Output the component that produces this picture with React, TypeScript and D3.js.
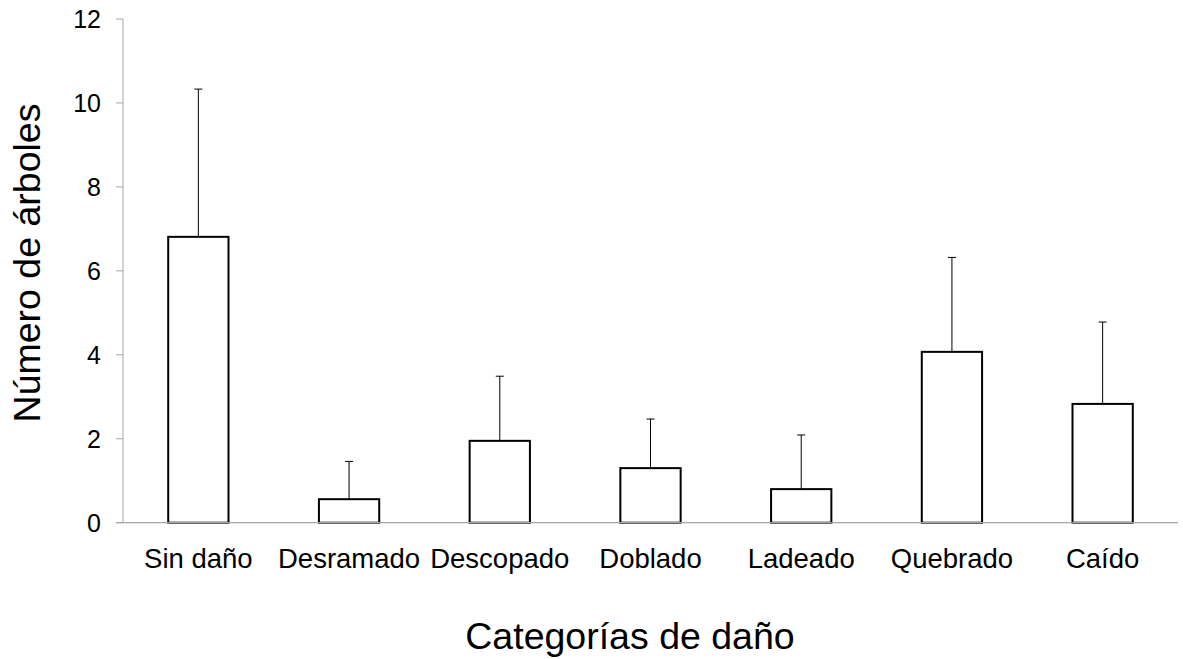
import { useEffect, useRef } from 'react';
import * as d3 from 'd3';

const categories = ['Sin daño', 'Desramado', 'Descopado', 'Doblado', 'Ladeado', 'Quebrado', 'Caído'];
const means = [6.81, 0.56, 1.95, 1.30, 0.80, 4.07, 2.83];
const upper = [10.33, 1.46, 3.49, 2.47, 2.09, 6.32, 4.78];
const yTicks = [0, 2, 4, 6, 8, 10, 12];

export default function App() {
  const svgRef = useRef<SVGSVGElement>(null);

  useEffect(() => {
    if (!svgRef.current) return;
    const svg = d3.select(svgRef.current);
    svg.selectAll('*').remove();

    const font = 'Liberation Sans, Arial, sans-serif';
    const x0 = 123, x1 = 1178, yBase = 522.7, yTop = 19;
    const x = d3.scaleBand<string>().domain(categories).range([x0, x1]).paddingInner(0.6).paddingOuter(0.3);
    const y = d3.scaleLinear().domain([0, 12]).range([yBase, yTop]);
    const axisColor = '#a6a6a6';

    // y axis
    svg.append('line').attr('x1', x0).attr('x2', x0).attr('y1', y(12)).attr('y2', y(0))
      .attr('stroke', axisColor).attr('stroke-width', 1);
    yTicks.forEach(t => {
      svg.append('line').attr('x1', x0 - 7).attr('x2', x0).attr('y1', y(t)).attr('y2', y(t))
        .attr('stroke', axisColor).attr('stroke-width', 1);
      svg.append('text').attr('x', 101).attr('y', y(t)).attr('dy', '0.36em')
        .attr('text-anchor', 'end').attr('font-family', font).attr('font-size', 25).attr('fill', '#000')
        .text(t);
    });

    // error bars (upper only)
    categories.forEach((c, i) => {
      const cx = (x(c) as number) + x.bandwidth() / 2;
      svg.append('line').attr('x1', cx).attr('x2', cx).attr('y1', y(means[i])).attr('y2', y(upper[i]))
        .attr('stroke', '#000').attr('stroke-width', 1);
      svg.append('line').attr('x1', cx - 4).attr('x2', cx + 4).attr('y1', y(upper[i])).attr('y2', y(upper[i]))
        .attr('stroke', '#000').attr('stroke-width', 1);
    });

    // bars
    svg.selectAll('rect.bar').data(categories).enter().append('rect')
      .attr('x', d => x(d) as number)
      .attr('y', (_, i) => y(means[i]))
      .attr('width', x.bandwidth())
      .attr('height', (_, i) => y(0) - y(means[i]))
      .attr('fill', '#fff').attr('stroke', '#000').attr('stroke-width', 2);

    // baseline
    svg.append('line').attr('x1', x0 - 7).attr('x2', x1).attr('y1', y(0)).attr('y2', y(0))
      .attr('stroke', axisColor).attr('stroke-width', 1.2);

    // category labels
    categories.forEach(c => {
      svg.append('text').attr('x', (x(c) as number) + x.bandwidth() / 2).attr('y', 568)
        .attr('text-anchor', 'middle').attr('font-family', font).attr('font-size', 27.5).attr('fill', '#000')
        .text(c);
    });

    // titles
    svg.append('text').attr('x', 630).attr('y', 649).attr('text-anchor', 'middle')
      .attr('font-family', font).attr('font-size', 37.5).attr('fill', '#000').text('Categorías de daño');
    svg.append('text').attr('transform', 'translate(40,263) rotate(-90)').attr('text-anchor', 'middle')
      .attr('font-family', font).attr('font-size', 37.5).attr('fill', '#000').text('Número de árboles');
  }, []);

  return (
    <svg ref={svgRef} width={1183} height={659}
      style={{ position: 'absolute', left: 0, top: 0, background: '#fff' }} />
  );
}
